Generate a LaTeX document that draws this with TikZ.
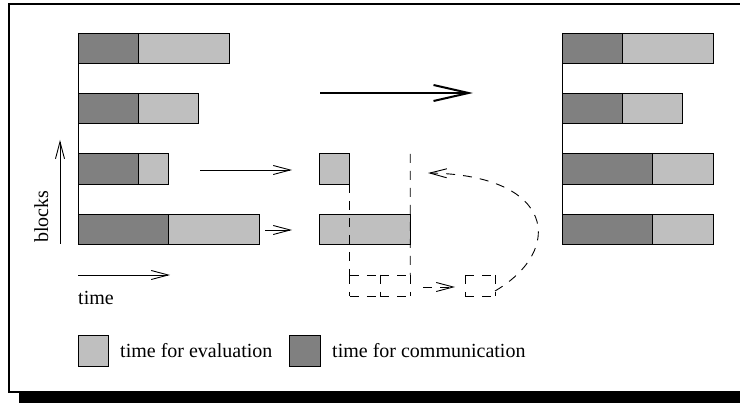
\documentclass[tikz,border=0pt]{standalone}
\usepackage{fontspec}
\setmainfont{Liberation Serif}
\usetikzlibrary{arrows.meta}
\definecolor{commgray}{RGB}{128,128,128}
\definecolor{evalgray}{RGB}{191,191,191}
\tikzset{
  seg/.style={draw=black, line width=0.9pt, inner sep=0pt, outer sep=0pt,
              minimum height=30.2pt, anchor=north west},
  comm/.style={seg, fill=commgray},
  eval/.style={seg, fill=evalgray},
  dashline/.style={line width=0.9pt, dash pattern=on 9pt off 8pt},
  slot/.style={inner sep=0pt, outer sep=0pt, minimum height=21pt, anchor=north west},
  barb/.style={line width=0.9pt, -{Straight Barb[length=17pt,width=9pt,line width=0.9pt]}},
  bigbarb/.style={line width=2pt, -{Straight Barb[length=35pt,width=16pt,line width=2pt]}},
  lbl/.style={inner sep=0pt, font=\fontsize{20}{24}\selectfont},
}
% dashed outline of a slot node, every edge starting with a dash at a corner
\newcommand\dashslot[1]{%
  \draw[dashline] (#1.north west) -- (#1.north east)
                  (#1.north west) -- (#1.south west)
                  (#1.south west) -- (#1.south east)
                  (#1.north east) -- (#1.south east);}
\begin{document}
\begin{tikzpicture}[x=1pt,y=-1pt]
  \clip (0,0) rectangle (740,403);
  \fill[white] (0,0) rectangle (740,403);

  % frame with its drop shadow
  \fill[black] (19,393) rectangle (760,410);
  \draw[line width=2pt] (9,4) rectangle (760,392);

  % ---- left group: time lines of four blocks ----
  \draw[line width=0.9pt] (78,33) -- (78,244.4);
  \node[comm, minimum width=60.4pt] (l1c) at (78,33) {};
  \node[eval, minimum width=90.6pt] (l1e) at (138.4,33) {};
  \node[comm, minimum width=60.4pt] (l2c) at (78,93.4) {};
  \node[eval, minimum width=60.4pt] (l2e) at (138.4,93.4) {};
  \node[comm, minimum width=60.4pt] (l3c) at (78,153.8) {};
  \node[eval, minimum width=30.2pt] (l3e) at (138.4,153.8) {};
  \node[comm, minimum width=90.6pt] (l4c) at (78,214.2) {};
  \node[eval, minimum width=90.6pt] (l4e) at (168.6,214.2) {};

  % axes
  \coordinate (bstart) at (60,244);
  \coordinate (bend) at (60,140);
  \draw[barb] (bstart) -- (bend);
  \node[lbl, rotate=90, anchor=base west] (blocks) at (48,243) {blocks};
  \coordinate (tstart) at (78,275);
  \coordinate (tend) at (170,275);
  \draw[barb] (tstart) -- (tend);
  \node[lbl, anchor=base west] (time) at (78,305) {time};

  % ---- middle group: moving the evaluation work ----
  \node[eval, minimum width=30.2pt] (m3) at (319.6,153.8) {};
  \node[eval, minimum width=90.6pt] (m4) at (319.6,214.2) {};
  \coordinate (a3s) at (200,170);
  \coordinate (a3e) at (292,170);
  \draw[barb] (a3s) -- (a3e);
  \coordinate (a4s) at (265,230);
  \coordinate (a4e) at (292,230);
  \draw[barb] (a4s) -- (a4e);

  \node[slot, minimum width=30.2pt] (d1) at (349.8,275) {};
  \node[slot, minimum width=30.2pt] (d2) at (380,275) {};
  \node[slot, minimum width=30pt] (d3) at (465,275) {};
  \dashslot{d1}
  \dashslot{d2}
  \dashslot{d3}
  \coordinate (v1top) at (349.8,184);
  \coordinate (v2top) at (410.2,153.8);
  \draw[dashline] (v1top) -- (d1.north west);
  \draw[dashline] (v2top) -- (d2.north east);
  \coordinate (ds) at (423,287);
  \coordinate (de) at (455,287);
  \draw[barb, dashline] (ds) -- (de);
  \coordinate (cs) at (495,291);
  \coordinate (ce) at (428,173);
  \draw[barb, dashline] (cs) .. controls (565,250) and (555,175) .. (ce);

  % big arrow between the two states
  \coordinate (bgs) at (320,93);
  \coordinate (bge) at (473,93);
  \draw[bigbarb] (bgs) -- (bge);

  % ---- right group: balanced blocks ----
  \draw[line width=0.9pt] (562,33) -- (562,244.4);
  \node[comm, minimum width=60.4pt] (r1c) at (562,33) {};
  \node[eval, minimum width=90.6pt] (r1e) at (622.4,33) {};
  \node[comm, minimum width=60.4pt] (r2c) at (562,93.4) {};
  \node[eval, minimum width=60.4pt] (r2e) at (622.4,93.4) {};
  \node[comm, minimum width=90.6pt] (r3c) at (562,153.8) {};
  \node[eval, minimum width=60.4pt] (r3e) at (652.6,153.8) {};
  \node[comm, minimum width=90.6pt] (r4c) at (562,214.2) {};
  \node[eval, minimum width=60.4pt] (r4e) at (652.6,214.2) {};

  % ---- legend ----
  \node[eval, minimum width=30.2pt, minimum height=31pt] (keyeval) at (78,335) {};
  \node[lbl, anchor=base west] (keyevaltxt) at (120,358) {time for evaluation};
  \node[comm, minimum width=30.2pt, minimum height=31pt] (keycomm) at (289.8,335) {};
  \node[lbl, anchor=base west] (keycommtxt) at (332,358) {time for communication};
\end{tikzpicture}
\end{document}
